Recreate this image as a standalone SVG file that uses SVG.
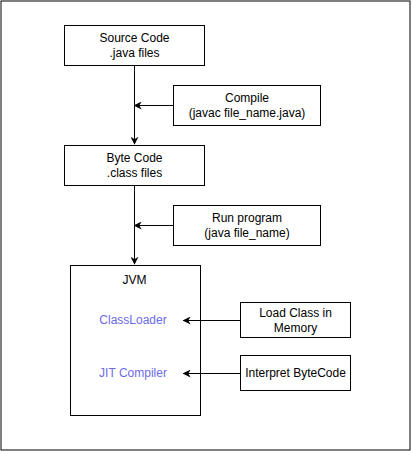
<svg xmlns="http://www.w3.org/2000/svg" width="412" height="451" viewBox="0 0 412 451">
<style>
.box{fill:#fff;stroke:#000;stroke-width:1}
.t{font-family:"Liberation Sans",Arial,sans-serif;font-size:12px;fill:#000;text-anchor:middle}
.b{fill:#6b6be6}
.c{fill:none;stroke:#000;stroke-width:1}
</style>
<defs>
<marker id="ah" viewBox="0 0 10 10" refX="9" refY="5" markerWidth="8" markerHeight="8" markerUnits="userSpaceOnUse" orient="auto">
<path d="M0,0 L10,5 L0,10 L3,5 Z" fill="#000"/>
</marker>
<marker id="ahg" viewBox="0 0 10 10" refX="9" refY="5" markerWidth="8" markerHeight="8" markerUnits="userSpaceOnUse" orient="auto">
<path d="M0,0 L10,5 L0,10 L3,5 Z" fill="#000"/>
</marker>
</defs>
<rect x="0" y="0" width="412" height="451" fill="#fff"/>
<rect x="1" y="1" width="409" height="449" class="c" stroke-width="1.5"/>
<g id="source">
<rect class="box" x="64.5" y="25.5" width="140" height="40"/>
<text class="t" x="134.5" y="42">Source Code</text>
<text class="t" x="134.5" y="57">.java files</text>
</g>
<g id="compile">
<rect class="box" x="173.5" y="85.5" width="147" height="40"/>
<text class="t" x="247" y="102">Compile</text>
<text class="t" x="247" y="117">(javac file_name.java)</text>
</g>
<g id="bytecode">
<rect class="box" x="64.5" y="145.5" width="140" height="40"/>
<text class="t" x="134.5" y="162">Byte Code</text>
<text class="t" x="134.5" y="177">.class files</text>
</g>
<g id="run">
<rect class="box" x="173.5" y="205.5" width="147" height="40"/>
<text class="t" x="247" y="222">Run program</text>
<text class="t" x="247" y="237">(java file_name)</text>
</g>
<g id="jvm">
<rect class="box" x="70.5" y="265.5" width="130" height="150"/>
<text class="t" x="134.5" y="284">JVM</text>
<text class="t b" x="133" y="324">ClassLoader</text>
<text class="t b" x="133" y="377">JIT Compiler</text>
</g>
<g id="loadclass">
<rect class="box" x="240.5" y="302.5" width="110" height="35" stroke="#555" stroke-width="1.3"/>
<text class="t" x="295.5" y="317">Load Class in</text>
<text class="t" x="295.5" y="332">Memory</text>
</g>
<g id="interpret">
<rect class="box" x="240.5" y="355.5" width="110" height="35"/>
<text class="t" x="295.5" y="377">Interpret ByteCode</text>
</g>
<g id="connectors">
<path class="c" d="M134.5,65.5 V144" marker-end="url(#ah)"/>
<path class="c" d="M173.5,105.5 H134.5" marker-end="url(#ah)"/>
<path class="c" d="M134.5,185.5 V264" marker-end="url(#ah)"/>
<path class="c" d="M173.5,225.5 H134.5" marker-end="url(#ah)"/>
<path class="c" d="M240.5,320.5 H183.5" marker-end="url(#ah)"/>
<path class="c" d="M240.5,373.5 H183.5" stroke="#666" stroke-width="1.3" marker-end="url(#ahg)"/>
</g>
</svg>
